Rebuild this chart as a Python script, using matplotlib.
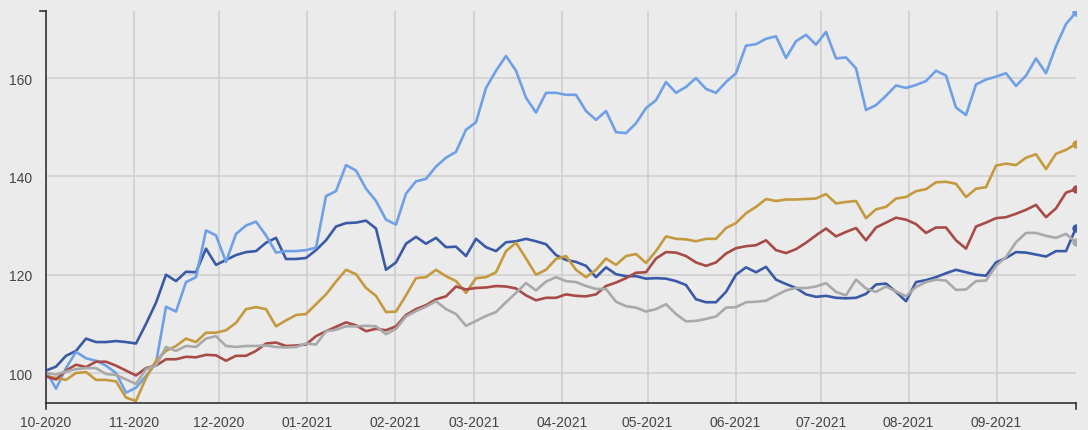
import matplotlib
matplotlib.use("Agg")
import matplotlib.pyplot as plt
import matplotlib.dates as mdates
import pandas as pd

start_date = "2020-10-01"
end_date = "2021-09-29"

light_blue = [100.5, 96.8, 101, 104.3, 103, 102.5, 101.5, 100, 96, 97,
              99.4, 102, 113.5, 112.5, 118.5, 119.5, 129, 128, 122.6, 128.3,
              130, 130.8, 128, 124.5, 124.8, 124.8, 125, 125.5, 136, 137,
              142.3, 141.2, 137.5, 135, 131.2, 130.2, 136.5, 139, 139.5, 142,
              143.8, 145, 149.5, 151, 158, 161.5, 164.5, 161.5, 156, 153,
              157, 157, 156.6, 156.6, 153.3, 151.5, 153.3, 149, 148.8, 150.8,
              153.9, 155.5, 159.2, 157, 158.2, 160, 157.8, 157, 159.2, 161,
              166.6, 166.9, 168, 168.5, 164.1, 167.5, 168.8, 166.8, 169.4, 164,
              164.2, 162, 153.5, 154.5, 156.4, 158.5, 158, 158.6, 159.4, 161.5,
              160.5, 154, 152.5, 158.7, 159.7, 160.3, 161, 158.4, 160.5, 164,
              161, 166.5, 171, 173.4]

dark_blue = [100.5, 101.3, 103.5, 104.5, 107, 106.3, 106.3, 106.5, 106.3, 106,
             110, 114.3, 120, 118.7, 120.6, 120.5, 125.3, 122, 123, 124,
             124.6, 124.8, 126.5, 127.5, 123.2, 123.2, 123.4, 125, 127, 129.8,
             130.5, 130.6, 131, 129.4, 121, 122.5, 126.3, 127.7, 126.3, 127.5,
             125.6, 125.7, 123.8, 127.3, 125.6, 124.8, 126.6, 126.8, 127.3, 126.8,
             126.2, 124, 123, 122.6, 121.8, 119.5, 121.5, 120.1, 119.7, 119.7,
             119.2, 119.3, 119.2, 118.7, 117.9, 115, 114.4, 114.4, 116.5, 120,
             121.5, 120.5, 121.6, 119, 118.1, 117.3, 116, 115.5, 115.7, 115.3,
             115.2, 115.3, 116.1, 118, 118.2, 116.5, 114.6, 118.5, 118.9, 119.5,
             120.3, 121, 120.5, 120, 119.8, 122.5, 123.4, 124.6, 124.5, 124.1,
             123.7, 124.8, 124.8, 129.5]

gold = [99.3, 99, 98.6, 100, 100.2, 98.6, 98.6, 98.3, 95, 94.3,
        99, 102.5, 104.5, 105.5, 107, 106.3, 108.2, 108.2, 108.7, 110.2,
        113, 113.4, 113, 109.5, 110.7, 111.8, 112, 114, 116, 118.6,
        121, 120.1, 117.3, 115.7, 112.4, 112.5, 115.8, 119.3, 119.5, 121,
        119.7, 118.7, 116.3, 119.3, 119.5, 120.5, 124.8, 126.5, 123.3, 120,
        121, 123.2, 123.8, 121, 119.5, 121, 123.3, 122, 123.8, 124.2,
        122.4, 124.8, 127.8, 127.3, 127.2, 126.8, 127.3, 127.3, 129.5, 130.5,
        132.5, 133.8, 135.4, 135, 135.3, 135.3, 135.4, 135.5, 136.4, 134.5,
        134.8, 135, 131.5, 133.3, 133.8, 135.5, 135.8, 137, 137.4, 138.8,
        138.9, 138.5, 135.8, 137.5, 137.8, 142.2, 142.6, 142.3, 143.8, 144.5,
        141.5, 144.6, 145.4, 146.6]

red = [99.3, 98.7, 100.5, 101.7, 101.2, 102.3, 102.3, 101.5, 100.5, 99.5,
       101, 101.5, 102.8, 102.8, 103.3, 103.2, 103.7, 103.6, 102.5, 103.5,
       103.5, 104.5, 106, 106.2, 105.5, 105.6, 105.8, 107.5, 108.5, 109.4,
       110.3, 109.7, 108.5, 109, 108.7, 109.5, 111.8, 113, 113.8, 115,
       115.6, 117.6, 117, 117.3, 117.4, 117.7, 117.6, 117.2, 115.8, 114.8,
       115.3, 115.3, 116, 115.7, 115.6, 116, 117.7, 118.4, 119.3, 120.4,
       120.5, 123.3, 124.6, 124.5, 123.8, 122.5, 121.8, 122.5, 124.3, 125.4,
       125.8, 126, 127, 125, 124.4, 125.2, 126.5, 128, 129.4, 127.8,
       128.7, 129.5, 127, 129.6, 130.6, 131.6, 131.2, 130.3, 128.5, 129.6,
       129.6, 127, 125.3, 129.8, 130.6, 131.5, 131.7, 132.4, 133.2, 134.2,
       131.7, 133.5, 136.7, 137.4]

gray = [100, 99.7, 100.3, 100.8, 101, 101, 99.8, 99.6, 98.7, 97.8,
        100.8, 101.5, 105.3, 104.5, 105.5, 105.3, 107, 107.5, 105.5, 105.3,
        105.5, 105.5, 105.6, 105.3, 105.2, 105.3, 106, 105.8, 108.5, 108.8,
        109.5, 109.5, 109.6, 109.5, 107.9, 109, 111.5, 112.6, 113.5, 114.6,
        113, 112, 109.6, 110.6, 111.6, 112.4, 114.4, 116.3, 118.3, 116.8,
        118.6, 119.5, 118.7, 118.5, 117.7, 117.1, 117.1, 114.5, 113.6, 113.3,
        112.5, 113, 114, 112, 110.5, 110.6, 111, 111.5, 113.3, 113.4,
        114.4, 114.5, 114.7, 115.8, 116.8, 117.3, 117.3, 117.6, 118.3, 116.5,
        115.8, 119, 117.2, 116.5, 117.6, 116.6, 115.6, 117.5, 118.5, 119,
        118.8, 116.9, 117, 118.7, 118.8, 121.8, 123.6, 126.6, 128.5, 128.5,
        127.9, 127.5, 128.3, 126.6]

y_ticks = [100, 120, 140, 160]

series = [
    (dark_blue, "#3a5aa7"),
    (light_blue, "#6fa0e7"),
    (gold, "#c59a3e"),
    (red, "#a84b46"),
    (gray, "#a9a9a9"),
]

dates = pd.date_range(start_date, end_date, periods=len(light_blue))

bg = "#ebebeb"
W, H = 1088, 431
fig = plt.figure(figsize=(W / 100, H / 100), dpi=100, facecolor=bg)
ax = fig.add_axes([46 / W, 27 / H, (1076 - 46) / W, (419 - 27) / H], facecolor=bg)

for vals, col in series:
    ax.plot(dates, vals, color=col, lw=1.9, solid_joinstyle="round", zorder=3)
    ax.plot(dates[-1:], vals[-1:], "o", color=col, ms=5, zorder=4)

ax.set_xlim(dates[0], dates[-1])
ax.set_ylim(93.9, 173.65)
ax.set_yticks(y_ticks)
ax.xaxis.set_major_locator(mdates.MonthLocator())
ax.xaxis.set_major_formatter(mdates.DateFormatter("%m-%Y"))

ax.grid(True, color="#d0d0d0", lw=1.2, zorder=0)
for s in ["top", "right"]:
    ax.spines[s].set_visible(False)
for s in ["left", "bottom"]:
    ax.spines[s].set_color("#333333")
    ax.spines[s].set_linewidth(1.2)
    ax.spines[s].set_zorder(5)

ax.tick_params(axis="both", length=0, labelsize=10, labelcolor="#444444")
ax.tick_params(axis="y", pad=10)
ax.tick_params(axis="x", pad=9)
for lbl in ax.get_xticklabels() + ax.get_yticklabels():
    lbl.set_fontfamily("Liberation Sans")

# axis end caps (outer ticks)
cap = dict(color="#333333", lw=1.2, transform=ax.transAxes, clip_on=False, zorder=5)
dx = 6 / (1076 - 46)
dy = 6 / (419 - 27)
ax.plot([-dx, 0], [1, 1], **cap)
ax.plot([0, 0], [0, -dy], **cap)
ax.plot([1, 1], [0, -dy], **cap)

fig.savefig("out.png", dpi=100, facecolor=bg)
